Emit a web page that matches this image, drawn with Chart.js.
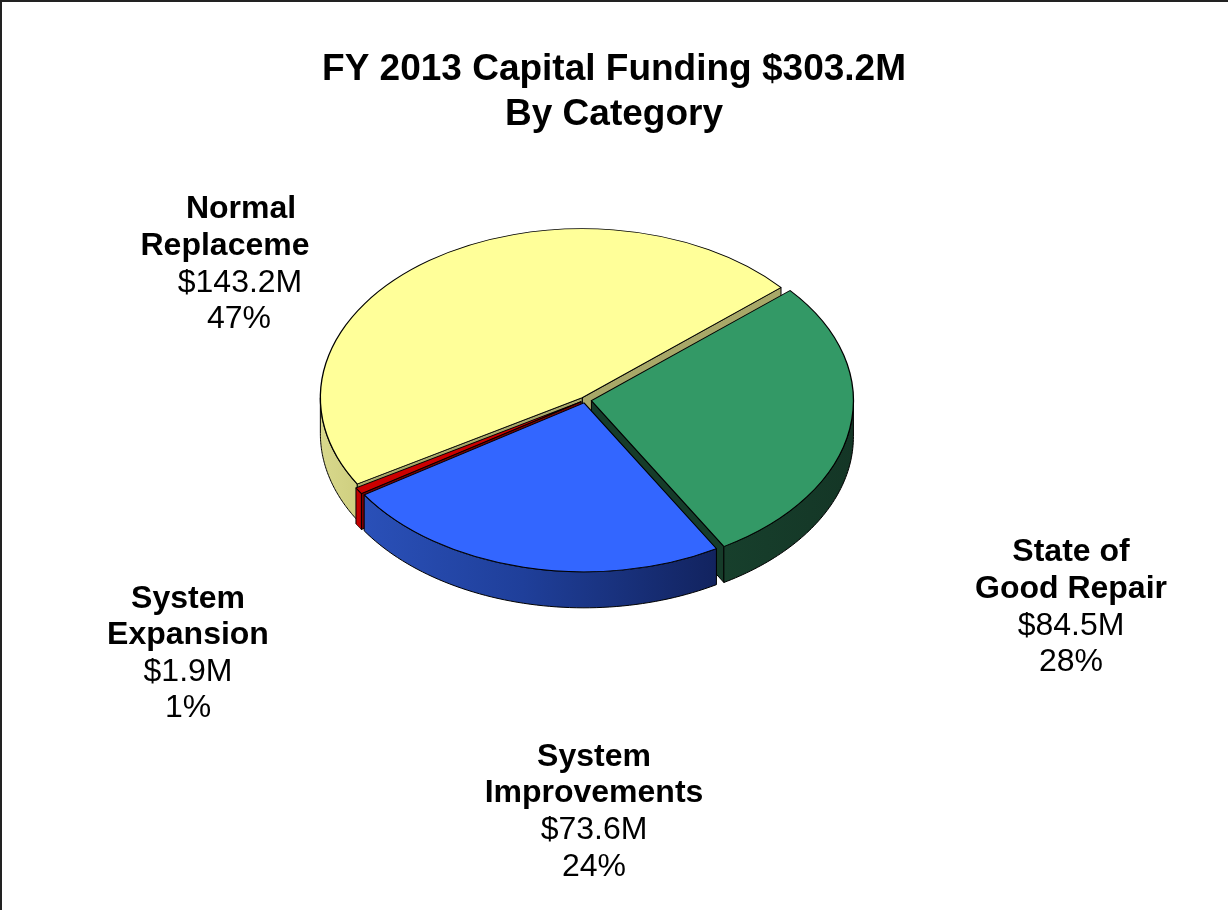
<!DOCTYPE html>
<html><head><meta charset="utf-8">
<style>
html,body{margin:0;padding:0;background:#fff;}
#wrap{position:relative;width:1228px;height:910px;overflow:hidden;}
#frame{position:absolute;left:0;top:0;right:0;bottom:0;border-left:2px solid #222;border-top:2px solid #222;pointer-events:none;}
canvas{display:block;}
</style>
<script src="https://cdn.jsdelivr.net/npm/chart.js@4/dist/chart.umd.js"></script>
</head><body>
<div id="wrap"><canvas id="c" width="1228" height="910"></canvas><div id="frame"></div></div>
<script>
const titleLines = ["FY 2013 Capital Funding $303.2M", "By Category"];
const categories = ["State of Good Repair", "System Improvements", "System Expansion", "Normal Replacement"];
const categoryLines = [["State of", "Good Repair"], ["System", "Improvements"], ["System", "Expansion"], ["Normal", "Replaceme"]];
const amounts = [84.5, 73.6, 1.9, 143.2];
const shares = ["28%", "24%", "1%", "47%"];

const topColors = ["#339966", "#3366ff", "#cc0000", "#ffff99"];
const edgeColors = ["#163c2a", "#1a2f7a", "#7a0000", "#a8a868"];
const wallStops = [
  [[0, "#173f2c"], [1, "#143626"]],
  [[0, "#2a50b8"], [0.45, "#1f3f9a"], [1, "#12235f"]],
  [[0, "#cc0000"], [1, "#b80000"]],
  [[0, "#d8d88c"], [1, "#cfcf80"]]
];
const sliceGaps = [6.5, 4.5, 4.5, 4.5];
const paintOrder = [3, 0, 2, 1];
const centerX = 585, centerY = 400, squash = 0.645, depth = 36, pieRadius = 262;
const labelFont = '"Liberation Sans", Arial, sans-serif';
const labelPos = [
  [[1071, 552], [1071, 589], [1071, 626], [1071, 662]],
  [[594, 757], [594, 793], [594, 830], [594, 867]],
  [[188, 599], [188, 635], [188, 672], [188, 708]],
  [[241, 209], [225, 246], [240, 283], [239, 319]]
];

const pie3d = {
  id: 'pie3d',
  beforeDatasetsDraw(chart) {
    const ctx = chart.ctx;
    const arcs = chart.getDatasetMeta(0).data;
    const sx = x => centerX + (x - arcs[0].x);
    const sy = y => centerY + (y - arcs[0].y) * squash;
    paintOrder.forEach(i => {
      const a = arcs[i];
      const mid = (a.startAngle + a.endAngle) / 2;
      const gx = Math.cos(mid) * sliceGaps[i], gy = Math.sin(mid) * sliceGaps[i];
      const px = a.x + gx, py = a.y + gy;
      const R = a.outerRadius;
      const rim = t => [sx(px + Math.cos(t) * R), sy(py + Math.sin(t) * R)];
      const apex = [sx(px), sy(py)];
      ctx.save();
      ctx.lineWidth = 1;
      ctx.lineJoin = 'round';
      ctx.strokeStyle = '#000';
      // radial faces turned toward the viewer
      [[a.startAngle, Math.cos(a.startAngle) < 0], [a.endAngle, Math.cos(a.endAngle) > 0]].forEach(([t, show]) => {
        if (!show) return;
        const r = rim(t);
        ctx.beginPath();
        ctx.moveTo(apex[0], apex[1]);
        ctx.lineTo(r[0], r[1]);
        ctx.lineTo(r[0], r[1] + depth);
        ctx.lineTo(apex[0], apex[1] + depth);
        ctx.closePath();
        ctx.fillStyle = edgeColors[i];
        ctx.fill();
        ctx.stroke();
      });
      // outer rim wall, front half only
      const TAU = Math.PI * 2;
      for (let k = -1; k <= 1; k++) {
        const lo = Math.max(a.startAngle, k * TAU), hi = Math.min(a.endAngle, k * TAU + Math.PI);
        if (hi <= lo) continue;
        const x0 = rim(hi)[0], x1 = rim(lo)[0];
        const g = ctx.createLinearGradient(Math.min(x0, x1), 0, Math.max(x0, x1), 0);
        wallStops[i].forEach(s => g.addColorStop(s[0], s[1]));
        ctx.beginPath();
        const n = 60;
        for (let s = 0; s <= n; s++) { const r = rim(lo + (hi - lo) * s / n); s ? ctx.lineTo(r[0], r[1]) : ctx.moveTo(r[0], r[1]); }
        for (let s = n; s >= 0; s--) { const r = rim(lo + (hi - lo) * s / n); ctx.lineTo(r[0], r[1] + depth); }
        ctx.closePath();
        ctx.fillStyle = g;
        ctx.fill();
        ctx.stroke();
      }
      // top face: the library's own arc under a flattening transform
      ctx.translate(centerX, centerY);
      ctx.scale(1, squash);
      ctx.translate(-a.x + gx, -a.y + gy);
      a.draw(ctx);
      ctx.restore();
    });
    return false;
  },
  afterDraw(chart) {
    const ctx = chart.ctx;
    ctx.save();
    ctx.fillStyle = '#000';
    ctx.textAlign = 'center';
    ctx.textBaseline = 'middle';
    amounts.forEach((v, i) => {
      const lines = [...categoryLines[i], '$' + v.toFixed(1) + 'M', shares[i]];
      lines.forEach((t, j) => {
        ctx.font = (j < 2 ? 'bold ' : '') + '32px ' + labelFont;
        ctx.fillText(t, labelPos[i][j][0], labelPos[i][j][1]);
      });
    });
    ctx.restore();
  }
};

new Chart(document.getElementById('c'), {
  type: 'pie',
  data: {
    labels: categories,
    datasets: [{
      data: amounts,
      backgroundColor: topColors,
      borderColor: '#000',
      borderWidth: 1.3
    }]
  },
  options: {
    responsive: false,
    animation: false,
    devicePixelRatio: 1,
    rotation: 49.3,
    radius: pieRadius,
    plugins: {
      legend: { display: false },
      tooltip: { enabled: false },
      title: {
        display: true,
        text: titleLines,
        color: '#000',
        font: { family: labelFont, size: 37, weight: 'bold', lineHeight: 1.2 },
        padding: { top: 48, bottom: 0 }
      }
    }
  },
  plugins: [pie3d]
});
</script>
</body></html>
